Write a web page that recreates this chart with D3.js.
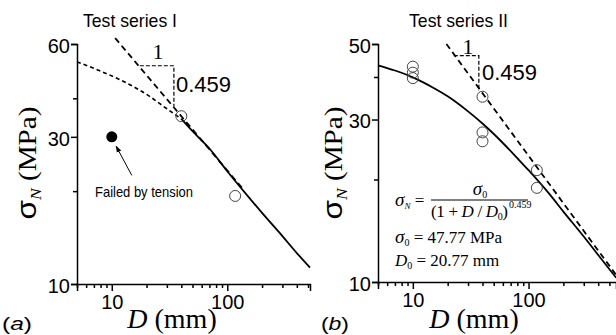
<!DOCTYPE html>
<html>
<head>
<meta charset="utf-8">
<script src="https://cdn.jsdelivr.net/npm/d3@7"></script>
<style>
  body { margin: 0; background: #fff; }
  svg { display: block; }
  .sans { font-family: "Liberation Sans", Arial, sans-serif; }
  .serif { font-family: "Liberation Serif", "Times New Roman", serif; }
</style>
</head>
<body>
<div id="chart"></div>
<script>
// ---- data ----
// Test series I
const seriesID = [5, 8, 12, 16, 20, 30, 40];            // dashed part of fit
const seriesIS = [52.5, 49.0, 45.8, 43.3, 41.2, 37.0, 34.3];
const seriesID2 = [40, 50, 70, 100, 150, 200, 300, 400, 520]; // solid part
const seriesIS2 = [34.3, 31.3, 27.5, 23.2, 19.3, 17.0, 14.3, 12.6, 11.3];
const testsID = [40, 117];
const testsIS = [35.0, 19.3];
const tensionD = [10];
const tensionS = [30];
const asymID = [10.7, 137];
const asymIS = [62.7, 20.3];
const triID = [17.5, 34.5, 34.5];
const triIS = [51.0, 51.0, 37.6];

// Test series II
const fitIID = [5, 7, 10, 15, 20, 30, 40, 60, 80, 100, 150, 200, 300, 400, 570];
const fitIIS = [43.3, 41.8, 39.9, 37.2, 35.1, 31.7, 29.2, 25.6, 23.1, 21.3, 18.2, 16.1, 13.6, 12.0, 10.3];
const testsIID = [10, 10, 10, 40, 40, 40, 118, 118];
const testsIIS = [42.9, 41.2, 39.7, 35.0, 27.5, 25.9, 21.3, 18.9];
const asymIID = [19.5, 570];
const asymIIS = [50.0, 10.5];
const triIID = [22.6, 37.2, 37.2];
const triIIS = [46.2, 46.2, 36.4];

const majorXTicks = [10, 100];
const minorXTicks = [5, 6, 7, 8, 9, 20, 30, 40, 50, 60, 70, 80, 90, 200, 300, 400, 500];
const majorYTicksA = [10, 30, 60];
const minorYTicksA = [20, 40];
const majorYTicksB = [10, 30, 50];
const minorYTicksB = [20, 40];

const zip = (a, b) => a.map((d, i) => [d, b[i]]);

const svg = d3.select('#chart').append('svg')
  .attr('width', 616)
  .attr('height', 335);

// scales
const xA = d3.scaleLog().domain([5, 520]).range([77, 310]);
const yA = d3.scaleLog().domain([10, 60]).range([284, 44]);
const xB = d3.scaleLog().domain([5, 570]).range([378, 616]);
const yB = d3.scaleLog().domain([10, 50]).range([282, 44]);

function drawAxes(x, y, majorY, minorY) {
  const x0 = x.range()[0], y0 = y.range()[0];
  // x axis
  const gx = svg.append('g').attr('transform', `translate(0,${y0})`);
  gx.call(d3.axisBottom(x).tickValues(majorXTicks).tickFormat(d3.format('d')).tickSize(7).tickPadding(4));
  svg.append('g').attr('transform', `translate(0,${y0})`)
    .call(d3.axisBottom(x).tickValues(minorXTicks).tickFormat('').tickSize(4))
    .select('.domain').remove();
  // y axis
  const gy = svg.append('g').attr('transform', `translate(${x0},0)`);
  gy.call(d3.axisLeft(y).tickValues(majorY).tickFormat(d3.format('d')).tickSize(6).tickPadding(1));
  svg.append('g').attr('transform', `translate(${x0},0)`)
    .call(d3.axisLeft(y).tickValues(minorY).tickFormat('').tickSize(4))
    .select('.domain').remove();
  svg.selectAll('.domain, .tick line').attr('stroke', '#000').attr('stroke-width', 1.5);
  gx.selectAll('text').attr('class', 'sans').style('font-size', '20px').attr('fill', '#000');
  gy.selectAll('text').attr('class', 'sans').style('font-size', '20px').attr('fill', '#000').attr('dy', '0.42em');
}

drawAxes(xA, yA, majorYTicksA, minorYTicksA);
drawAxes(xB, yB, majorYTicksB, minorYTicksB);

function line(x, y) {
  return d3.line().x(d => x(d[0])).y(d => y(d[1])).curve(d3.curveMonotoneX);
}
function straight(x, y) {
  return d3.line().x(d => x(d[0])).y(d => y(d[1]));
}

// ---- panel (a) ----
svg.append('path').attr('d', line(xA, yA)(zip(seriesID, seriesIS)))
  .attr('fill', 'none').attr('stroke', '#000').attr('stroke-width', 1.6).attr('stroke-dasharray', '4,3');
svg.append('path').attr('d', line(xA, yA)(zip(seriesID2, seriesIS2)))
  .attr('fill', 'none').attr('stroke', '#000').attr('stroke-width', 1.8);
svg.append('path').attr('d', straight(xA, yA)(zip(asymID, asymIS)))
  .attr('fill', 'none').attr('stroke', '#000').attr('stroke-width', 1.8).attr('stroke-dasharray', '6,4');
svg.append('path').attr('d', straight(xA, yA)(zip(triID, triIS)))
  .attr('fill', 'none').attr('stroke', '#000').attr('stroke-width', 1.2).attr('stroke-dasharray', '4,2');
svg.selectAll('.ptA').data(zip(testsID, testsIS)).enter().append('circle')
  .attr('cx', d => xA(d[0])).attr('cy', d => yA(d[1])).attr('r', 5.5)
  .attr('fill', 'none').attr('stroke', '#444').attr('stroke-width', 1);
svg.selectAll('.tenA').data(zip(tensionD, tensionS)).enter().append('circle')
  .attr('cx', d => xA(d[0])).attr('cy', d => yA(d[1])).attr('r', 5.5).attr('fill', '#000');

// arrow for "Failed by tension"
svg.append('defs').append('marker')
  .attr('id', 'arr').attr('viewBox', '0 0 10 10').attr('refX', 9).attr('refY', 5)
  .attr('markerWidth', 7).attr('markerHeight', 7).attr('orient', 'auto')
  .append('path').attr('d', 'M0,1.5 L10,5 L0,8.5 Z').attr('fill', '#000');
svg.append('line')
  .attr('x1', xA(14.9)).attr('y1', yA(22.5)).attr('x2', xA(10.9)).attr('y2', yA(28.0))
  .attr('stroke', '#000').attr('stroke-width', 1).attr('marker-end', 'url(#arr)');
svg.append('text').attr('class', 'sans').attr('x', 95).attr('y', 197)
  .attr('textLength', 98).attr('lengthAdjust', 'spacingAndGlyphs')
  .style('font-size', '15px').text('Failed by tension');

svg.append('text').attr('class', 'serif').attr('x', 158).attr('y', 59).attr('text-anchor', 'middle')
  .style('font-size', '22px').text('1');
svg.append('text').attr('class', 'sans').attr('x', 176).attr('y', 92)
  .style('font-size', '22px').text('0.459');

// ---- panel (b) ----
svg.append('path').attr('d', line(xB, yB)(zip(fitIID, fitIIS)))
  .attr('fill', 'none').attr('stroke', '#000').attr('stroke-width', 1.8);
svg.append('path').attr('d', straight(xB, yB)(zip(asymIID, asymIIS)))
  .attr('fill', 'none').attr('stroke', '#000').attr('stroke-width', 1.8).attr('stroke-dasharray', '6,4');
svg.append('path').attr('d', straight(xB, yB)(zip(triIID, triIIS)))
  .attr('fill', 'none').attr('stroke', '#000').attr('stroke-width', 1.2).attr('stroke-dasharray', '4,2');
svg.selectAll('.ptB').data(zip(testsIID, testsIIS)).enter().append('circle')
  .attr('cx', d => xB(d[0])).attr('cy', d => yB(d[1])).attr('r', 5.5)
  .attr('fill', 'none').attr('stroke', '#444').attr('stroke-width', 1);

svg.append('text').attr('class', 'serif').attr('x', 468).attr('y', 54).attr('text-anchor', 'middle')
  .style('font-size', '22px').text('1');
svg.append('text').attr('class', 'sans').attr('x', 482).attr('y', 80)
  .style('font-size', '22px').text('0.459');

// formula
const f = svg.append('g').attr('class', 'serif').style('font-size', '17px');
const t1 = f.append('text').attr('x', 395).attr('y', 206);
t1.append('tspan').style('font-style', 'italic').style('font-size', '19px').text('σ');
t1.append('tspan').attr('dy', 3).style('font-size', '9px').style('font-style', 'italic').text('N');
t1.append('tspan').attr('dy', -3).text(' =');
const t2 = f.append('text').attr('x', 480).attr('y', 195).attr('text-anchor', 'middle');
t2.append('tspan').style('font-style', 'italic').style('font-size', '19px').text('σ');
t2.append('tspan').attr('dy', 3).style('font-size', '10px').text('0');
f.append('line').attr('x1', 431).attr('x2', 528).attr('y1', 200).attr('y2', 200)
  .attr('stroke', '#000').attr('stroke-width', 1);
const t3 = f.append('text').attr('x', 431).attr('y', 217)
  .attr('textLength', 77).attr('lengthAdjust', 'spacing');
t3.append('tspan').text('(1 + ');
t3.append('tspan').style('font-style', 'italic').text('D');
t3.append('tspan').text(' / ');
t3.append('tspan').style('font-style', 'italic').text('D');
t3.append('tspan').attr('dy', 3).style('font-size', '10px').text('0');
t3.append('tspan').attr('dy', -3).text(')');
f.append('text').attr('x', 509).attr('y', 208).style('font-size', '10px').text('0.459');
const t4 = f.append('text').attr('x', 395).attr('y', 243);
t4.append('tspan').style('font-style', 'italic').style('font-size', '19px').text('σ');
t4.append('tspan').attr('dy', 3).style('font-size', '10px').text('0');
t4.append('tspan').attr('dy', -3).text(' = 47.77 MPa');
const t5 = f.append('text').attr('x', 395).attr('y', 266);
t5.append('tspan').style('font-style', 'italic').text('D');
t5.append('tspan').attr('dy', 3).style('font-size', '10px').text('0');
t5.append('tspan').attr('dy', -3).text(' = 20.77 mm');

// ---- titles and axis labels ----
svg.append('text').attr('class', 'sans').attr('x', 83).attr('y', 27)
  .attr('textLength', 94).attr('lengthAdjust', 'spacingAndGlyphs')
  .style('font-size', '19px').text('Test series I');
svg.append('text').attr('class', 'sans').attr('x', 409).attr('y', 27)
  .attr('textLength', 99).attr('lengthAdjust', 'spacingAndGlyphs')
  .style('font-size', '19px').text('Test series II');

function yLabel(x) {
  const t = svg.append('text').attr('transform', `translate(${x},163) rotate(-90)`)
    .attr('text-anchor', 'middle').attr('textLength', 113).attr('lengthAdjust', 'spacingAndGlyphs');
  t.append('tspan').attr('class', 'sans').style('font-size', '27px').text('σ');
  t.append('tspan').attr('class', 'serif').attr('dy', 5).style('font-size', '15px').style('font-style', 'italic').text('N');
  t.append('tspan').attr('class', 'serif').attr('dy', -5).style('font-size', '25px').text(' (MPa)');
}
yLabel(36);
yLabel(342);

function xLabel(x) {
  const t = svg.append('text').attr('class', 'serif').attr('x', x).attr('y', 328)
    .attr('text-anchor', 'middle').style('font-size', '28px');
  t.append('tspan').style('font-style', 'italic').text('D');
  t.append('tspan').text(' (mm)');
}
xLabel(172);
xLabel(474);

function panelTag(x, s, w) {
  const t = svg.append('text').attr('class', 'sans').attr('x', x).attr('y', 330)
    .attr('textLength', w).attr('lengthAdjust', 'spacingAndGlyphs').style('font-size', '19px');
  t.append('tspan').text('(');
  t.append('tspan').style('font-style', 'italic').text(s);
  t.append('tspan').text(')');
}
panelTag(2, 'a', 30);
panelTag(321, 'b', 28);
</script>
</body>
</html>
